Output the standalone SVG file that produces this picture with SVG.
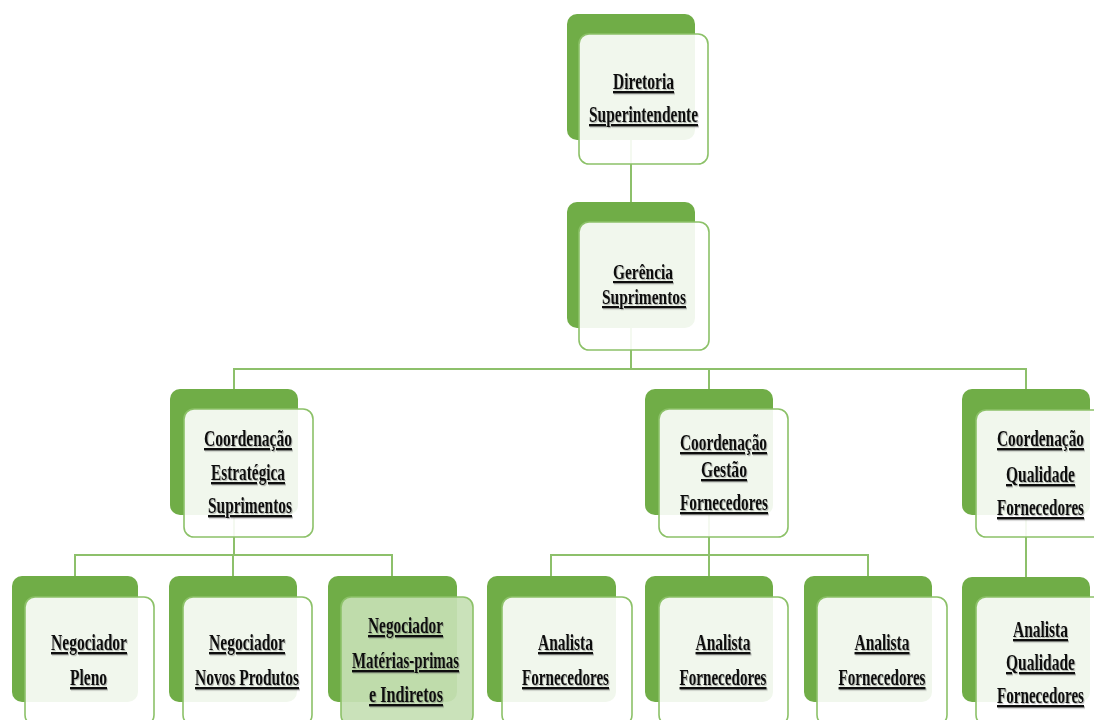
<svg xmlns="http://www.w3.org/2000/svg" width="1094" height="720" viewBox="0 0 1094 720">
  <defs>
    <filter id="shadow" x="-3%" y="-20%" width="106%" height="150%">
      <feDropShadow dx="1" dy="1.2" stdDeviation="0.6" flood-color="#555555" flood-opacity="0.4"/>
    </filter>
  </defs>
  <style>
    .back { fill: #70AD47; }
    .front { fill: #FFFFFF; fill-opacity: 0.9; stroke: #8CC168; stroke-width: 1.6; }
    .front.hl { fill: #C5E0B4; fill-opacity: 0.92; }
    .conn { fill: none; stroke: #8DC06B; stroke-width: 2; }
    .lbl { font-family: "Liberation Serif", "Times New Roman", serif; font-weight: bold; font-size: 24px;
           fill: #111111; text-anchor: middle; text-decoration: underline; filter: url(#shadow); }
    .tight { font-size: 22px; }
  </style>
  <rect width="1094" height="720" fill="#FFFFFF"/>

  <!-- connectors (elbow lines between the dark back panels) -->
  <g id="connectors" class="conn">
    <path d="M631 140 V202"/>
    <path d="M631 328 V369 M234 389 V369 H1026 V389 M709 369 V389"/>
    <path d="M234 515 V555 M75 576 V555 H392 V576 M233 555 V576"/>
    <path d="M709 515 V555 M551 576 V555 H868 V576 M709 555 V576"/>
    <path d="M1026 515 V577"/>
  </g>

  <!-- level 1 -->
  <g id="diretoria">
    <rect class="back" x="567" y="14" width="128" height="126" rx="10"/>
    <rect class="front" x="579" y="34" width="129" height="130" rx="10"/>
    <text class="lbl" x="643.5" y="89" textLength="61" lengthAdjust="spacingAndGlyphs">Diretoria</text>
    <text class="lbl" x="643.5" y="122" textLength="109" lengthAdjust="spacingAndGlyphs">Superintendente</text>
  </g>

  <!-- level 2 -->
  <g id="gerencia">
    <rect class="back" x="567" y="202" width="128" height="126" rx="10"/>
    <rect class="front" x="579" y="222" width="130" height="128" rx="10"/>
    <text class="lbl tight" x="643" y="279" textLength="60" lengthAdjust="spacingAndGlyphs">Gerência</text>
    <text class="lbl tight" x="644" y="304" textLength="84" lengthAdjust="spacingAndGlyphs">Suprimentos</text>
  </g>

  <!-- level 3 -->
  <g id="coord-estrategica">
    <rect class="back" x="170" y="389" width="128" height="126" rx="10"/>
    <rect class="front" x="184" y="409" width="129" height="128" rx="10"/>
    <text class="lbl" x="248" y="446" textLength="88" lengthAdjust="spacingAndGlyphs">Coordenação</text>
    <text class="lbl" x="248" y="480" textLength="74" lengthAdjust="spacingAndGlyphs">Estratégica</text>
    <text class="lbl" x="250" y="513" textLength="84" lengthAdjust="spacingAndGlyphs">Suprimentos</text>
  </g>

  <g id="coord-gestao">
    <rect class="back" x="645" y="389" width="128" height="126" rx="10"/>
    <rect class="front" x="659" y="409" width="129" height="128" rx="10"/>
    <text class="lbl" x="723.5" y="450" textLength="87" lengthAdjust="spacingAndGlyphs">Coordenação</text>
    <text class="lbl" x="724" y="477" textLength="46" lengthAdjust="spacingAndGlyphs">Gestão</text>
    <text class="lbl" x="724" y="510" textLength="88" lengthAdjust="spacingAndGlyphs">Fornecedores</text>
  </g>

  <g id="coord-qualidade">
    <rect class="back" x="962" y="389" width="128" height="126" rx="10"/>
    <rect class="front" x="976" y="410" width="129" height="127" rx="10"/>
    <text class="lbl" x="1040.5" y="446" textLength="87" lengthAdjust="spacingAndGlyphs">Coordenação</text>
    <text class="lbl" x="1040.5" y="482" textLength="69" lengthAdjust="spacingAndGlyphs">Qualidade</text>
    <text class="lbl" x="1040.5" y="515" textLength="87" lengthAdjust="spacingAndGlyphs">Fornecedores</text>
  </g>

  <!-- level 4 -->
  <g id="negociador-pleno">
    <rect class="back" x="12" y="576" width="126" height="126" rx="10"/>
    <rect class="front" x="25" y="597" width="129" height="128" rx="10"/>
    <text class="lbl" x="89" y="650" textLength="76" lengthAdjust="spacingAndGlyphs">Negociador</text>
    <text class="lbl" x="88.5" y="685" textLength="37" lengthAdjust="spacingAndGlyphs">Pleno</text>
  </g>

  <g id="negociador-novos">
    <rect class="back" x="169" y="576" width="128" height="126" rx="10"/>
    <rect class="front" x="183" y="597" width="129" height="128" rx="10"/>
    <text class="lbl" x="247" y="650" textLength="76" lengthAdjust="spacingAndGlyphs">Negociador</text>
    <text class="lbl" x="247" y="685" textLength="104" lengthAdjust="spacingAndGlyphs">Novos Produtos</text>
  </g>

  <g id="negociador-materias">
    <rect class="back" x="328" y="576" width="129" height="126" rx="10"/>
    <rect class="front hl" x="341" y="597" width="132" height="128" rx="10"/>
    <text class="lbl" x="405.5" y="633" textLength="75" lengthAdjust="spacingAndGlyphs">Negociador</text>
    <text class="lbl" x="405.5" y="668" textLength="107" lengthAdjust="spacingAndGlyphs">Matérias-primas</text>
    <text class="lbl" x="406" y="702" textLength="74" lengthAdjust="spacingAndGlyphs">e Indiretos</text>
  </g>

  <g id="analista-1">
    <rect class="back" x="487" y="576" width="129" height="126" rx="10"/>
    <rect class="front" x="502" y="597" width="130" height="128" rx="10"/>
    <text class="lbl" x="565.5" y="650" textLength="55" lengthAdjust="spacingAndGlyphs">Analista</text>
    <text class="lbl" x="565.5" y="685" textLength="87" lengthAdjust="spacingAndGlyphs">Fornecedores</text>
  </g>

  <g id="analista-2">
    <rect class="back" x="645" y="576" width="128" height="126" rx="10"/>
    <rect class="front" x="659" y="597" width="129" height="128" rx="10"/>
    <text class="lbl" x="723" y="650" textLength="55" lengthAdjust="spacingAndGlyphs">Analista</text>
    <text class="lbl" x="723" y="685" textLength="87" lengthAdjust="spacingAndGlyphs">Fornecedores</text>
  </g>

  <g id="analista-3">
    <rect class="back" x="804" y="576" width="128" height="126" rx="10"/>
    <rect class="front" x="817" y="597" width="130" height="128" rx="10"/>
    <text class="lbl" x="882" y="650" textLength="55" lengthAdjust="spacingAndGlyphs">Analista</text>
    <text class="lbl" x="882" y="685" textLength="87" lengthAdjust="spacingAndGlyphs">Fornecedores</text>
  </g>

  <g id="analista-qualidade">
    <rect class="back" x="962" y="577" width="128" height="125" rx="10"/>
    <rect class="front" x="976" y="597" width="129" height="128" rx="10"/>
    <text class="lbl" x="1040.5" y="637" textLength="55" lengthAdjust="spacingAndGlyphs">Analista</text>
    <text class="lbl" x="1040.5" y="670" textLength="69" lengthAdjust="spacingAndGlyphs">Qualidade</text>
    <text class="lbl" x="1040.5" y="703" textLength="87" lengthAdjust="spacingAndGlyphs">Fornecedores</text>
  </g>
</svg>
